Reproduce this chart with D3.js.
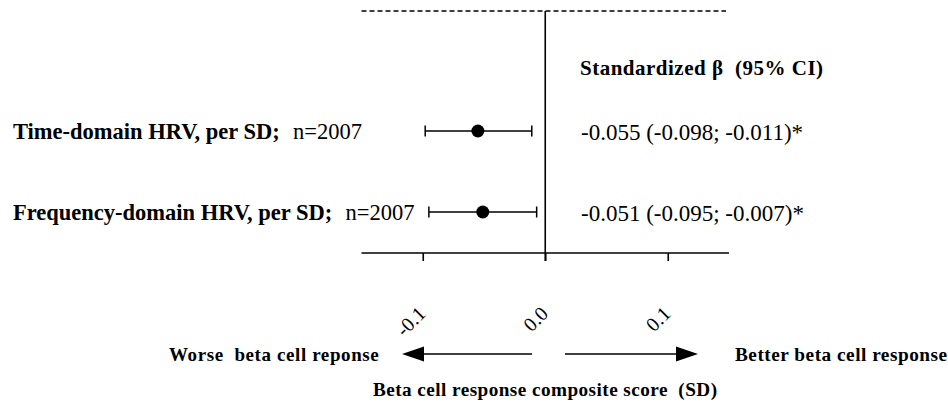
<!DOCTYPE html>
<html><head><meta charset="utf-8">
<script src="https://cdn.jsdelivr.net/npm/d3@7"></script>
<style>body{margin:0;background:#fff}svg{display:block}text{font-family:"Liberation Serif","Times New Roman",serif;fill:#000;white-space:pre}</style>
</head><body><svg id="c" width="948" height="407"></svg>
<script>
const labels = ["Time-domain HRV, per SD;", "Frequency-domain HRV, per SD;"];
const nLabels = ["n=2007", "n=2007"];
const beta = [-0.055, -0.051];
const lower = [-0.098, -0.095];
const upper = [-0.011, -0.007];
const ciText = ["-0.055 (-0.098; -0.011)*", "-0.051 (-0.095; -0.007)*"];
const tickValues = [-0.1, 0.0, 0.1];
const tickLabels = ["-0.1", "0.0", "0.1"];
const domain = [-0.15, 0.15];

const svg = d3.select("#c");
const x = d3.scaleLinear().domain(domain).range([361.5, 729]);
const y = d3.scalePoint().domain(labels).range([131, 212]);
const axisY = 253;

svg.append("line").attr("x1", x(domain[0])).attr("x2", 726).attr("y1", 11).attr("y2", 11)
  .attr("stroke", "#000").attr("stroke-width", 1.3).attr("stroke-dasharray", "5,3");

svg.append("line").attr("x1", x(0)).attr("x2", x(0)).attr("y1", 11).attr("y2", axisY + 8)
  .attr("stroke", "#000").attr("stroke-width", 1.6);

const ax = svg.append("g").attr("transform", `translate(0,${axisY})`)
  .call(d3.axisBottom(x).tickValues(tickValues).tickSize(8).tickFormat(""));
ax.select(".domain").attr("stroke-width", 1.6).attr("d", `M${x(domain[0])},0H${x(domain[1])}`);
ax.selectAll(".tick line").attr("stroke-width", 1.6);

svg.append("g").selectAll("text").data(tickValues).join("text")
  .attr("transform", (d) => `translate(${x(d) + 4},${315}) rotate(-45)`)
  .attr("text-anchor", "end").style("font-size", "20px")
  .text((d, i) => tickLabels[i]);

const rows = svg.append("g").selectAll("g").data(labels).join("g")
  .attr("transform", (d) => `translate(0,${y(d)})`);
rows.append("line").attr("x1", (d, i) => x(lower[i])).attr("x2", (d, i) => x(upper[i]))
  .attr("stroke", "#000").attr("stroke-width", 1.5);
rows.append("line").attr("x1", (d, i) => x(lower[i])).attr("x2", (d, i) => x(lower[i]))
  .attr("y1", -5.5).attr("y2", 5.5).attr("stroke", "#000").attr("stroke-width", 1.5);
rows.append("line").attr("x1", (d, i) => x(upper[i])).attr("x2", (d, i) => x(upper[i]))
  .attr("y1", -5.5).attr("y2", 5.5).attr("stroke", "#000").attr("stroke-width", 1.5);
rows.append("circle").attr("cx", (d, i) => x(beta[i])).attr("r", 6.5).attr("fill", "#000");

const lt = rows.append("text").attr("x", 13).attr("y", 8).style("font-size", "22.5px");
lt.append("tspan").style("font-weight", "bold").text((d) => d);
lt.append("tspan").attr("dx", 2).text((d, i) => "  " + nLabels[i]);

rows.append("text").attr("x", 581).attr("y", 9).style("font-size", "23px").text((d, i) => ciText[i]);

svg.append("text").attr("x", 580).attr("y", 75).style("font-size", "21px").style("font-weight", "bold")
  .style("letter-spacing", "0.5px").text("Standardized \u03b2  (95% CI)");

function arrow(x1, x2, yy) {
  const dir = Math.sign(x2 - x1);
  const hl = 22, hw = 7.5;
  svg.append("line").attr("x1", x1).attr("x2", x2 - dir * hl).attr("y1", yy).attr("y2", yy)
    .attr("stroke", "#000").attr("stroke-width", 1.6);
  svg.append("path").attr("d", `M${x2},${yy}L${x2 - dir * hl},${yy - hw}L${x2 - dir * hl},${yy + hw}Z`).attr("fill", "#000");
}
arrow(532, 402, 354);
arrow(565, 698, 354);

svg.append("text").attr("x", 169).attr("y", 361).style("font-size", "19px").style("font-weight", "bold")
  .style("letter-spacing", "0.6px").text("Worse  beta cell reponse");
svg.append("text").attr("x", 735).attr("y", 361).style("font-size", "19.3px").style("font-weight", "bold")
  .style("letter-spacing", "0.5px").text("Better beta cell response");
svg.append("text").attr("x", 373).attr("y", 396).style("font-size", "19.2px").style("font-weight", "bold")
  .style("letter-spacing", "0.45px").text("Beta cell response composite score  (SD)");
</script></body></html>
